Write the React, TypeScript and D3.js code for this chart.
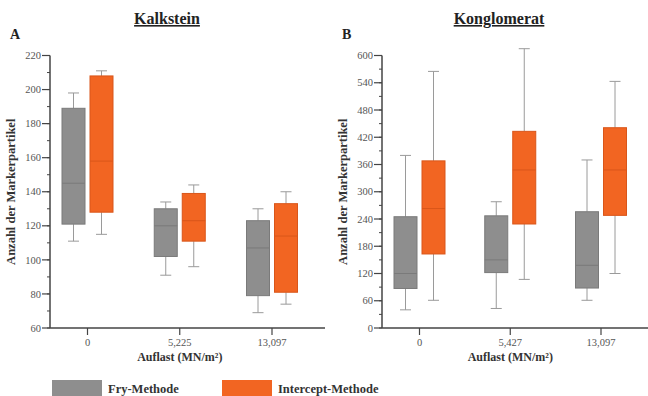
import * as d3 from 'd3'

// five-number summaries: [min, q1, median, q3, max]
const kalkCategories = ['0', '5,225', '13,097']
const kalkFry = [
  [111, 121, 145, 189, 198],
  [91, 102, 120, 130, 134],
  [69, 79, 107, 123, 130],
]
const kalkIntercept = [
  [115, 128, 158, 208, 211],
  [96, 111, 123, 139, 144],
  [74, 81, 114, 133, 140],
]
const kalkTicks = [60, 80, 100, 120, 140, 160, 180, 200, 220]

const konglCategories = ['0', '5,427', '13,097']
const konglFry = [
  [40, 87, 120, 245, 380],
  [43, 122, 150, 247, 278],
  [61, 88, 138, 256, 370],
]
const konglIntercept = [
  [61, 163, 263, 368, 565],
  [107, 229, 348, 433, 615],
  [120, 248, 348, 441, 543],
]
const konglTicks = [0, 60, 120, 180, 240, 300, 360, 420, 480, 540, 600]

const seriesNames = ['Fry-Methode', 'Intercept-Methode']
const GRAY = '#8e8e8e'
const ORANGE = '#f26522'
const FONT = '"Liberation Serif", "DejaVu Serif", serif'

const Panel = ({ title, letter, categories, fry, intercept, ticks, minorStep, axisX, axisRight, xRange, titleX }) => {
  const yTop = 55.5
  const yBottom = 328
  const y = d3.scaleLinear().domain([ticks[0], ticks[ticks.length - 1]]).range([yBottom, yTop])
  const x = d3.scalePoint().domain(categories).range(xRange)
  const minor = d3.range(ticks[0], ticks[ticks.length - 1] + 0.001, minorStep)
  const boxW = 23
  const off = 14

  const drawBox = (d, cx, fill, stroke, key) => {
    const [mn, q1, med, q3, mx] = d
    const capW = 11
    return (
      <g key={key}>
        <line x1={cx} x2={cx} y1={y(q3)} y2={y(mx)} stroke="#9a9a9a" strokeWidth={1} />
        <line x1={cx} x2={cx} y1={y(q1)} y2={y(mn)} stroke="#9a9a9a" strokeWidth={1} />
        <line x1={cx - capW / 2} x2={cx + capW / 2} y1={y(mx)} y2={y(mx)} stroke="#9a9a9a" strokeWidth={1} />
        <line x1={cx - capW / 2} x2={cx + capW / 2} y1={y(mn)} y2={y(mn)} stroke="#9a9a9a" strokeWidth={1} />
        <rect x={cx - boxW / 2} y={y(q3)} width={boxW} height={y(q1) - y(q3)} fill={fill} stroke={stroke} strokeWidth={1} />
        <line x1={cx - boxW / 2} x2={cx + boxW / 2} y1={y(med)} y2={y(med)} stroke={stroke} strokeWidth={1} />
      </g>
    )
  }

  const midY = (yTop + yBottom) / 2

  return (
    <g fontFamily={FONT}>
      <text x={titleX} y={24} textAnchor="middle" fontSize={16} fontWeight="bold" textDecoration="underline" fill="#222">{title}</text>
      <text x={axisX - 40} y={39} fontSize={14} fontWeight="bold" fill="#222">{letter}</text>
      <text transform={`translate(${axisX - 35},${midY}) rotate(-90)`} textAnchor="middle" fontSize={12.5} fontWeight="bold" fill="#333">Anzahl der Markerpartikel</text>

      {/* y axis */}
      <line x1={axisX} x2={axisX} y1={yTop} y2={yBottom} stroke="#444" strokeWidth={1.5} />
      {minor.map(v => (
        <line key={'m' + v} x1={axisX - 3} x2={axisX} y1={y(v)} y2={y(v)} stroke="#444" strokeWidth={1} />
      ))}
      {ticks.map(v => (
        <g key={v}>
          <line x1={axisX - 8} x2={axisX} y1={y(v)} y2={y(v)} stroke="#444" strokeWidth={1.2} />
          <text x={axisX - 9} y={y(v)} dy="0.35em" textAnchor="end" fontSize={10.5} fill="#555">{v}</text>
        </g>
      ))}

      {/* x axis */}
      <line x1={axisX} x2={axisRight} y1={yBottom} y2={yBottom} stroke="#444" strokeWidth={1.5} />
      {categories.map(c => (
        <g key={c}>
          <line x1={x(c)} x2={x(c)} y1={yBottom} y2={yBottom + 7} stroke="#444" strokeWidth={1.2} />
          <text x={x(c)} y={yBottom + 18} textAnchor="middle" fontSize={10.5} fill="#555">{c}</text>
        </g>
      ))}
      <text x={(xRange[0] + xRange[1]) / 2} y={yBottom + 33} textAnchor="middle" fontSize={12} fontWeight="bold" fill="#333">Auflast (MN/m²)</text>

      {categories.map((c, i) => drawBox(fry[i], x(c) - off, GRAY, '#7a7a7a', 'f' + i))}
      {categories.map((c, i) => drawBox(intercept[i], x(c) + off, ORANGE, '#d9561a', 'i' + i))}
    </g>
  )
}

const App = () => {
  const legendX = [52, 222]
  const legendColors = [GRAY, ORANGE]
  return (
    <svg width={648} height={396} style={{ position: 'absolute', left: 0, top: 0, background: '#fff' }}>
      <Panel title="Kalkstein" letter="A" categories={kalkCategories} fry={kalkFry} intercept={kalkIntercept}
        ticks={kalkTicks} minorStep={10} axisX={50} axisRight={325} xRange={[87.5, 272]} titleX={167} />
      <Panel title="Konglomerat" letter="B" categories={konglCategories} fry={konglFry} intercept={konglIntercept}
        ticks={konglTicks} minorStep={30} axisX={382} axisRight={648} xRange={[419.5, 601]} titleX={499} />
      {seriesNames.map((s, i) => (
        <g key={s} fontFamily={FONT}>
          <rect x={legendX[i]} y={380} width={50} height={18} fill={legendColors[i]} />
          <text x={legendX[i] + 56} y={393} fontSize={12.5} fontWeight="bold" fill="#333">{s}</text>
        </g>
      ))}
    </svg>
  )
}

export default App
